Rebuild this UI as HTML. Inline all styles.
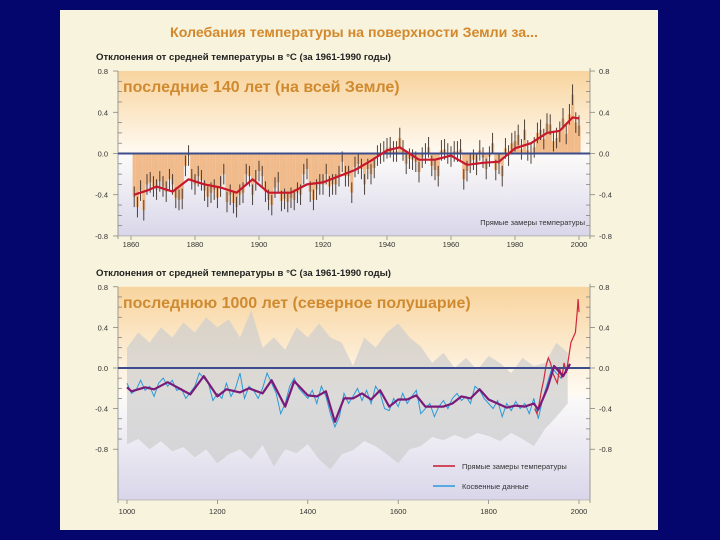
<!DOCTYPE html>
<html><head><meta charset="utf-8"><style>
body{margin:0;width:720px;height:540px;background:#05056e;overflow:hidden;font-family:"Liberation Sans",sans-serif}
svg{position:absolute;left:0;top:0}
</style></head><body>
<svg id="c" width="720" height="540"></svg>
<script>
// ---- data ----
const topYears0 = 1861;
const topAnnual = [-0.42,-0.52,-0.36,-0.55,-0.30,-0.28,-0.32,-0.35,-0.27,-0.32,
-0.37,-0.25,-0.30,-0.43,-0.45,-0.44,-0.12,-0.02,-0.25,-0.30,
-0.22,-0.26,-0.36,-0.42,-0.38,-0.35,-0.43,-0.32,-0.20,-0.47,
-0.40,-0.48,-0.52,-0.40,-0.38,-0.20,-0.22,-0.40,-0.26,-0.17,
-0.22,-0.37,-0.45,-0.50,-0.33,-0.28,-0.46,-0.44,-0.47,-0.43,
-0.45,-0.38,-0.40,-0.20,-0.15,-0.37,-0.45,-0.35,-0.30,-0.30,
-0.20,-0.32,-0.30,-0.30,-0.22,-0.08,-0.22,-0.22,-0.38,-0.13,
-0.10,-0.15,-0.30,-0.15,-0.20,-0.14,-0.02,0.00,0.02,0.05,
0.06,0.02,0.02,0.15,0.03,-0.10,-0.05,-0.06,-0.08,-0.18,
-0.04,0.00,0.06,-0.12,-0.16,-0.22,0.03,0.04,0.00,-0.03,
0.02,0.02,0.04,-0.25,-0.17,-0.09,-0.06,-0.11,0.03,-0.04,
-0.15,-0.03,0.10,-0.16,-0.10,-0.22,0.05,-0.02,0.10,0.12,
0.18,0.04,0.23,0.03,0.00,0.06,0.20,0.23,0.14,0.29,
0.28,0.12,0.15,0.21,0.34,0.19,0.38,0.57,0.30,0.27];
const topErr = 0.1;
const topSmoothYears = [1861,1865,1868,1873,1878,1883,1888,1893,1898,1903,1910,1915,1920,1925,1930,1935,1940,1944,1950,1955,1960,1965,1970,1975,1980,1985,1990,1994,1998,2000];
const topSmoothVals = [-0.40,-0.36,-0.32,-0.37,-0.25,-0.30,-0.33,-0.38,-0.25,-0.38,-0.38,-0.30,-0.28,-0.22,-0.16,-0.07,0.03,0.06,-0.06,-0.06,-0.02,-0.11,-0.09,-0.08,0.05,0.10,0.20,0.22,0.35,0.34];
const proxyYears0 = 1000;
const proxyVals = [-0.15,-0.25,-0.22,-0.12,-0.22,-0.18,-0.28,-0.15,-0.10,-0.18,
-0.12,-0.22,-0.20,-0.30,-0.24,-0.18,-0.05,-0.10,-0.15,-0.32,
-0.25,-0.30,-0.15,-0.28,-0.20,-0.05,-0.30,-0.18,-0.22,-0.30,
-0.20,-0.05,-0.15,-0.25,-0.45,-0.35,-0.18,-0.10,-0.20,-0.25,
-0.30,-0.22,-0.35,-0.18,-0.28,-0.45,-0.58,-0.48,-0.25,-0.35,
-0.28,-0.20,-0.32,-0.22,-0.35,-0.18,-0.25,-0.40,-0.42,-0.30,
-0.38,-0.25,-0.35,-0.28,-0.22,-0.45,-0.40,-0.35,-0.48,-0.38,
-0.32,-0.40,-0.30,-0.25,-0.32,-0.28,-0.35,-0.18,-0.22,-0.30,
-0.35,-0.40,-0.32,-0.48,-0.35,-0.42,-0.33,-0.40,-0.35,-0.45,
-0.30,-0.50,-0.30,-0.15,0.00,-0.05,-0.10,-0.05,0.02];
const smoothYears = [1000,1010,1040,1060,1090,1140,1170,1200,1220,1250,1270,1300,1320,1350,1370,1400,1420,1440,1460,1480,1500,1520,1540,1560,1580,1600,1620,1640,1660,1700,1720,1740,1760,1780,1800,1820,1840,1860,1880,1900,1910,1930,1945,1965,1980];
const smoothVals = [-0.19,-0.23,-0.19,-0.21,-0.14,-0.26,-0.08,-0.28,-0.21,-0.24,-0.20,-0.25,-0.12,-0.38,-0.13,-0.27,-0.28,-0.23,-0.53,-0.30,-0.30,-0.25,-0.31,-0.22,-0.38,-0.31,-0.31,-0.27,-0.38,-0.38,-0.35,-0.28,-0.30,-0.21,-0.31,-0.35,-0.39,-0.37,-0.38,-0.35,-0.41,-0.20,0.02,-0.08,0.04];
const bandYears = [1000,1025,1050,1075,1100,1125,1150,1175,1200,1225,1250,1275,1300,1325,1350,1375,1400,1425,1450,1475,1500,1525,1550,1575,1600,1625,1650,1675,1700,1725,1750,1775,1800,1825,1850,1875,1900,1925,1950,1975];
const bandUpper = [0.20,0.35,0.25,0.40,0.30,0.45,0.35,0.50,0.40,0.48,0.30,0.57,0.20,0.30,0.18,0.40,0.30,0.44,0.30,0.25,0.02,0.30,0.20,0.35,0.44,0.30,0.21,0.05,0.15,0.00,0.10,-0.02,0.12,0.05,-0.05,0.10,0.02,0.05,0.25,0.15];
const bandLower = [-0.75,-0.70,-0.80,-0.72,-0.82,-0.78,-0.88,-0.80,-0.94,-0.85,-0.80,-0.90,-0.76,-0.97,-0.80,-0.84,-0.75,-0.90,-1.0,-0.85,-0.81,-0.72,-0.77,-0.85,-0.94,-0.80,-0.77,-0.68,-0.71,-0.66,-0.70,-0.64,-0.67,-0.72,-0.64,-0.70,-0.77,-0.60,-0.48,-0.35];
const instYears = [1902,1907,1912,1917,1922,1927,1932,1937,1942,1947,1952,1957,1962,1967,1972,1977,1982,1987,1992,1996,1998,2000];
const instVals = [-0.40,-0.45,-0.35,-0.22,-0.12,0.02,0.10,0.05,-0.05,-0.10,-0.15,0.00,-0.10,0.05,-0.05,0.10,0.25,0.30,0.35,0.55,0.68,0.55];
const yTicks = ["0.8","0.4","0.0","-0.4","-0.8"];
const yTickVals = [0.8,0.4,0,-0.4,-0.8];
const topXTicks = [1860,1880,1900,1920,1940,1960,1980,2000];
const botXTicks = [1000,1200,1400,1600,1800,2000];

// ---- helpers ----
const NS="http://www.w3.org/2000/svg";
const svg=document.getElementById('c');
function mk(tag,attrs,parent){const e=document.createElementNS(NS,tag);for(const k in attrs)e.setAttribute(k,attrs[k]);(parent||svg).appendChild(e);return e;}
const L=118,R=590;
const tx=y=>131+(y-1860)*3.2, ty=v=>153.5-v*103.1;
const bx=y=>127+(y-1000)*0.452, by=v=>368-v*101.5;

const defs=mk('defs',{});
const g1=mk('linearGradient',{id:'bg',x1:0,y1:0,x2:0,y2:1},defs);
mk('stop',{offset:'0','stop-color':'#f8d49e'},g1);
mk('stop',{offset:'0.5','stop-color':'#fffaf2'},g1);
mk('stop',{offset:'0.52','stop-color':'#fbfaf8'},g1);
mk('stop',{offset:'1','stop-color':'#d9d6ea'},g1);

let e=mk('rect',{x:60,y:10,width:598,height:520,fill:'#f7f3dc'});


e=mk('text',{x:354,y:37,'text-anchor':'middle','font-size':'14.2','font-weight':'bold',fill:'#d4882c'});
e.textContent='Колебания температуры на поверхности Земли за...';



function frame(top,bot,yf,label,subY,name){
  let r=mk('rect',{x:L,y:top,width:R-L,height:bot-top,fill:'url(#bg)'});
  
  
  mk('line',{x1:L,y1:top,x2:L,y2:bot+3,stroke:'#888','stroke-width':0.8});
  mk('line',{x1:R,y1:top-3,x2:R,y2:bot+3,stroke:'#888','stroke-width':0.8});
  mk('line',{x1:L,y1:bot,x2:R,y2:bot,stroke:'#999','stroke-width':0.6});
  for(let v=-8;v<=8;v++){const y=yf(v/10);const big=v%4===0;
    mk('line',{x1:L-(big?5:0),y1:y,x2:L+(big?0:4),y2:y,stroke:'#777','stroke-width':0.7});
    mk('line',{x1:R,y1:y,x2:R+(big?5:0)-(big?0:4),y2:y,stroke:'#777','stroke-width':0.7});}
  yTicks.forEach((t,i)=>{const y=yf(yTickVals[i])+3;
    let a=mk('text',{x:L-10,y:y,'text-anchor':'end','font-size':'7.5',fill:'#333'});a.textContent=t;
    
    
    let b=mk('text',{x:R+9,y:y,'font-size':'7.5',fill:'#333'});b.textContent=t;
    
    });
  let s=mk('text',{x:96,y:subY,'font-size':'9.4','font-weight':'bold',fill:'#222',textLength:295,lengthAdjust:'spacingAndGlyphs'});
  s.textContent='Отклонения от средней температуры в °C (за 1961-1990 годы)';
  
  
  let h=mk('text',{x:123,y:top+21,'font-size':'16','font-weight':'bold',fill:'#d08a30'});
  h.textContent=label;
  
  
}
function pathOf(xs,ys,fx,fy){return xs.map((x,i)=>(i?'L':'M')+fx(x).toFixed(1)+','+fy(ys[i]).toFixed(1)).join('');}

// ---- top chart ----
frame(ty(0.8),ty(-0.8),ty,'последние 140 лет (на всей Земле)',60,'top-chart');
topAnnual.forEach((v,i)=>{const yr=topYears0+i;const x=tx(yr);
  let b=mk('rect',{x:x-1.6,y:Math.min(ty(v),ty(0)),width:3.2,height:Math.abs(ty(v)-ty(0)),fill:'#f0b47e',opacity:0.9});
  
  
  let w=mk('line',{x1:x,y1:ty(v-topErr),x2:x,y2:ty(v+topErr),stroke:'#3a2e28','stroke-width':0.9});
  
  });
e=mk('line',{x1:L,y1:ty(0),x2:R,y2:ty(0),stroke:'#3c4c8c','stroke-width':2});


e=mk('path',{d:pathOf(topSmoothYears,topSmoothVals,tx,ty),fill:'none',stroke:'#c8182c','stroke-width':2.2,'stroke-linejoin':'round'});


e=mk('text',{x:585,y:225,'text-anchor':'end','font-size':'7.5',fill:'#333'});
e.textContent='Прямые замеры температуры';


topXTicks.forEach(y=>{mk('line',{x1:tx(y),y1:ty(-0.8),x2:tx(y),y2:ty(-0.8)+4,stroke:'#777','stroke-width':0.7});
  let t=mk('text',{x:tx(y),y:247,'text-anchor':'middle','font-size':'7.5',fill:'#333'});t.textContent=y;
  
  });

// ---- bottom chart ----
frame(by(0.8),500,by,'последнюю 1000 лет (северное полушарие)',276,'bottom-chart');
let bd=bandYears.map((y,i)=>(i?'L':'M')+bx(y)+','+by(bandUpper[i])).join('')+
  bandYears.map((y,i)=>i).reverse().map(i=>'L'+bx(bandYears[i])+','+by(bandLower[i])).join('')+'Z';
e=mk('path',{d:bd,fill:'#cdcdcd',opacity:0.7});


const pYears=proxyVals.map((_,i)=>proxyYears0+i*10);
e=mk('path',{d:pathOf(pYears,proxyVals,bx,by),fill:'none',stroke:'#2a9ad8','stroke-width':1});


e=mk('path',{d:pathOf(instYears,instVals,bx,by),fill:'none',stroke:'#d0283c','stroke-width':1.2});


e=mk('line',{x1:L,y1:by(0),x2:R,y2:by(0),stroke:'#3c4c8c','stroke-width':2});


e=mk('path',{d:pathOf(smoothYears,smoothVals,bx,by),fill:'none',stroke:'#7a1a78','stroke-width':2.2,'stroke-linejoin':'round'});


botXTicks.forEach(y=>{mk('line',{x1:bx(y),y1:500,x2:bx(y),y2:504,stroke:'#777','stroke-width':0.7});
  let t=mk('text',{x:bx(y),y:514,'text-anchor':'middle','font-size':'7.5',fill:'#333'});t.textContent=y;
  
  });
e=mk('line',{x1:433,y1:466,x2:455,y2:466,stroke:'#c8182c','stroke-width':1.5});


e=mk('text',{x:462,y:469,'font-size':'7.5',fill:'#333'});e.textContent='Прямые замеры температуры';


e=mk('line',{x1:433,y1:486,x2:455,y2:486,stroke:'#2a9ad8','stroke-width':1.5});


e=mk('text',{x:462,y:489,'font-size':'7.5',fill:'#333'});e.textContent='Косвенные данные';


</script>
</body></html>
